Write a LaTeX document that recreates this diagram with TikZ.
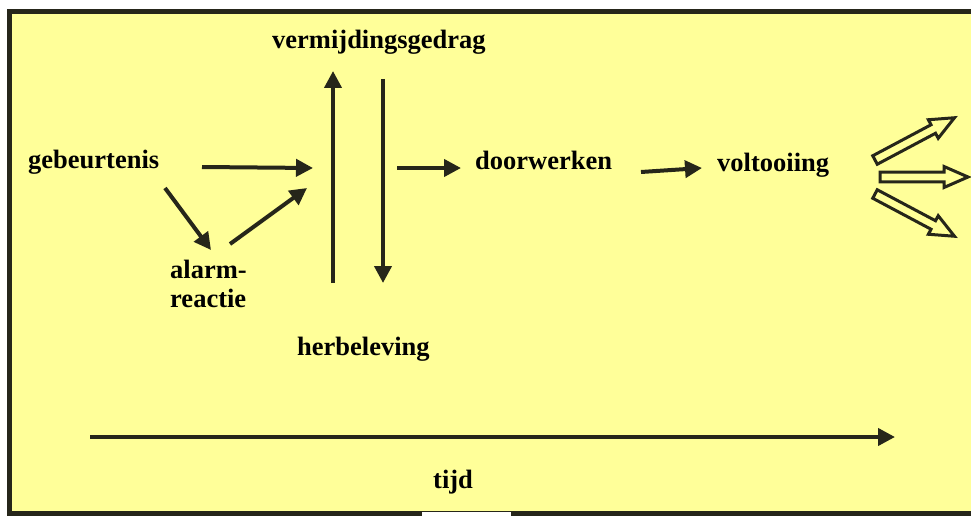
\documentclass[tikz,border=0pt]{standalone}
\usepackage{fontspec}
\setmainfont{Liberation Serif}
\usetikzlibrary{arrows.meta}
\definecolor{bgyellow}{HTML}{FFFF99}
\definecolor{ink}{HTML}{26261A}
\begin{document}
\begin{tikzpicture}[x=1pt,y=-1pt,
  lbl/.style={font=\bfseries\fontsize{26.5}{30}\selectfont, inner sep=0pt, anchor=base west, text=black},
  arr/.style={draw=ink, line width=4pt, -{Triangle[length=17pt,width=17pt]}},
  hollow/.style={draw=ink, line width=3pt, fill=bgyellow, line join=miter}]
\useasboundingbox (0,0) rectangle (971,516);
\fill[white] (0,0) rectangle (971,516);
\draw[draw=ink, line width=5pt, fill=bgyellow] (9.5,11.5) rectangle (990,513.5);
\fill[white] (422,512) rectangle (511,517);

% labels
\node[lbl] (verm) at (272,49) {vermijdingsgedrag};
\node[lbl] (geb) at (28,168) {gebeurtenis};
\node[lbl] (alarm) at (170,278) {alarm-};
\node[lbl] (reactie) at (170,307) {reactie};
\node[lbl] (herb) at (297,355) {herbeleving};
\node[lbl] (door) at (475,169) {doorwerken};
\node[lbl] (volt) at (717,171) {voltooiing};
\node[lbl] (tijd) at (433,488) {tijd};

% connector end points
\coordinate (a1s) at (202,167);  \coordinate (a1e) at (313,168);
\coordinate (a2s) at (165,188);  \coordinate (a2e) at (211,250);
\coordinate (a3s) at (230,244);  \coordinate (a3e) at (307,188);
\coordinate (ups) at (333,283);  \coordinate (upe) at (333,71);
\coordinate (dns) at (383,79);   \coordinate (dne) at (383,283);
\coordinate (a4s) at (397,168);  \coordinate (a4e) at (461,168);
\coordinate (a5s) at (641,172);  \coordinate (a5e) at (702,168);
\coordinate (ts) at (90,437);    \coordinate (te) at (895,437);

\draw[arr] (a1s) -- (a1e);
\draw[arr] (a2s) -- (a2e);
\draw[arr] (a3s) -- (a3e);
\draw[arr] (ups) -- (upe);
\draw[arr] (dns) -- (dne);
\draw[arr] (a4s) -- (a4e);
\draw[arr] (a5s) -- (a5e);
\draw[arr] (ts) -- (te);

% hollow outgoing arrows
\begin{scope}[shift={(875,160)}, rotate=28]
  \draw[hollow] (0,-4.8) -- (66,-4.8) -- (66,-10.5) -- (90,0) -- (66,10.5) -- (66,4.8) -- (0,4.8) -- cycle;
\end{scope}
\begin{scope}[shift={(880,177)}]
  \draw[hollow] (0,-4.8) -- (64,-4.8) -- (64,-10.5) -- (88,0) -- (64,10.5) -- (64,4.8) -- (0,4.8) -- cycle;
\end{scope}
\begin{scope}[shift={(875,194)}, rotate=-28]
  \draw[hollow] (0,-4.8) -- (66,-4.8) -- (66,-10.5) -- (90,0) -- (66,10.5) -- (66,4.8) -- (0,4.8) -- cycle;
\end{scope}
\end{tikzpicture}
\end{document}
